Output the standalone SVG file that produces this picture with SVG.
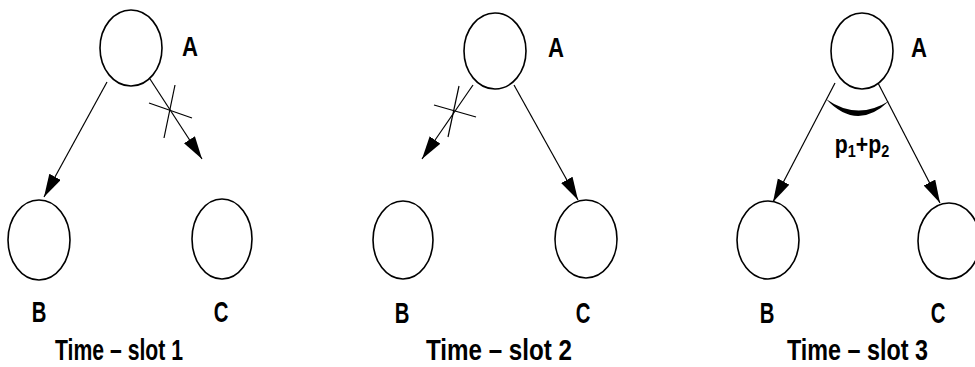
<svg xmlns="http://www.w3.org/2000/svg" width="975" height="367" viewBox="0 0 975 367">
<style>
.node{fill:#fff;stroke:#000;stroke-width:1.6}
.edge{stroke:#000;stroke-width:1.2;fill:none}
.cross{stroke:#000;stroke-width:1.2}
.lbl{font-family:"Liberation Sans",Arial,sans-serif;font-weight:bold;fill:#000;text-anchor:middle}
.a{font-size:27px}
.bc{font-size:29px}
.title{font-family:"Liberation Sans",Arial,sans-serif;font-weight:bold;font-size:29px;fill:#000}
</style>
<defs>
<marker id="arr" markerUnits="userSpaceOnUse" markerWidth="26" markerHeight="14" refX="23" refY="6.5" orient="auto">
<path d="M0,0 L23,6.5 L0,13 Z" fill="#000"/>
</marker>
</defs>
<rect width="975" height="367" fill="#fff"/>
<g id="connectors">
<line class="edge" x1="107" y1="82" x2="44" y2="197" marker-end="url(#arr)"/>
<line class="edge" x1="150" y1="79" x2="202" y2="159" marker-end="url(#arr)"/>
<line class="cross" x1="149" y1="103" x2="192" y2="118"/>
<line class="cross" x1="175" y1="85" x2="164" y2="138"/>
<line class="edge" x1="473" y1="85" x2="422" y2="159" marker-end="url(#arr)"/>
<line class="cross" x1="434" y1="105" x2="476" y2="117"/>
<line class="cross" x1="459" y1="86" x2="448" y2="137"/>
<line class="edge" x1="514" y1="85" x2="578" y2="200" marker-end="url(#arr)"/>
<line class="edge" x1="835" y1="83" x2="773" y2="202" marker-end="url(#arr)"/>
<line class="edge" x1="878" y1="83" x2="940" y2="203" marker-end="url(#arr)"/>
<path d="M826,99 Q857,132 889,101 Q857,121 826,99 Z" fill="#000"/>
</g>
<g id="p1-A"><ellipse class="node" cx="131" cy="48" rx="31" ry="38"/><text class="lbl a" transform="translate(190 56) scale(0.82 1)">A</text></g>
<g id="p1-B"><ellipse class="node" cx="39" cy="240" rx="31" ry="40"/><text class="lbl bc" transform="translate(39 322) scale(0.7 1)">B</text></g>
<g id="p1-C"><ellipse class="node" cx="222" cy="239" rx="30" ry="40"/><text class="lbl bc" transform="translate(221 322) scale(0.7 1)">C</text></g>
<g id="p2-A"><ellipse class="node" cx="495" cy="51" rx="31" ry="38"/><text class="lbl a" transform="translate(556 57) scale(0.82 1)">A</text></g>
<g id="p2-B"><ellipse class="node" cx="403" cy="240" rx="30" ry="39"/><text class="lbl bc" transform="translate(402 323) scale(0.7 1)">B</text></g>
<g id="p2-C"><ellipse class="node" cx="586" cy="239" rx="31" ry="39"/><text class="lbl bc" transform="translate(583 323) scale(0.7 1)">C</text></g>
<g id="p3-A"><ellipse class="node" cx="862" cy="51" rx="31" ry="38"/><text class="lbl a" transform="translate(919 57) scale(0.82 1)">A</text></g>
<g id="p3-B"><ellipse class="node" cx="768" cy="240" rx="31" ry="39"/><text class="lbl bc" transform="translate(767 323) scale(0.7 1)">B</text></g>
<g id="p3-C"><ellipse class="node" cx="949" cy="241" rx="31" ry="38"/><text class="lbl bc" transform="translate(938 323) scale(0.7 1)">C</text></g>
<g id="p3-label"><text class="lbl" font-size="25" transform="translate(862 153) scale(0.85 1)">p<tspan font-size="17" dy="4">1</tspan><tspan dy="-4">+p</tspan><tspan font-size="17" dy="4">2</tspan></text></g>
<g id="titles">
<text class="title" x="55" y="360" textLength="128" lengthAdjust="spacingAndGlyphs">Time – slot 1</text>
<text class="title" x="426" y="360" textLength="146" lengthAdjust="spacingAndGlyphs">Time – slot 2</text>
<text class="title" x="787" y="360" textLength="141" lengthAdjust="spacingAndGlyphs">Time – slot 3</text>
</g>
</svg>
